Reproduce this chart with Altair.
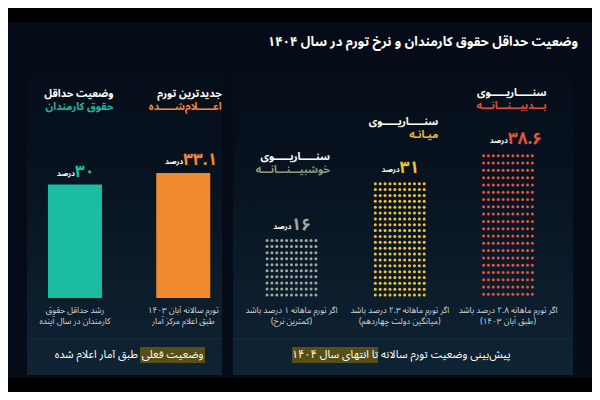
import altair as alt
import pandas as pd

# ---------------- data ----------------
categories = ["حداقل حقوق", "تورم اعلام‌شده", "خوشبینانه", "میانه", "بدبینانه"]
values = [30, 33.1, 16, 31, 38.6]
kinds = ["bar", "bar", "dots", "dots", "dots"]
dot_rows = [0, 0, 10, 20, 20]
dot_cols = 11
header_top = ["وضعیت حداقل", "جدیدترین تورم", "سنـــــاریـــــوی", "سنـــــاریـــــوی", "سنـــــاریـــــوی"]
header_bottom = ["حقوق کارمندان", "اعـــــلام‌شـــــده", "خوشبیـــنـــانـــه", "میـانـه", "بـــدبیـــنـــانـــه"]
label_line1 = ["رشد حداقل حقوق", "تورم سالانه آبان ۱۴۰۳", "اگر تورم ماهانه ۱ درصد باشد",
               "اگر تورم ماهانه ۲.۳ درصد باشد", "اگر تورم ماهانه ۲.۸ درصد باشد"]
label_line2 = ["کارمندان در سال آینده", "طبق اعلام مرکز آمار", "(کمترین نرخ)",
               "(میانگین دولت چهاردهم)", "(طبق آبان ۱۴۰۳)"]
unit = "درصد"
title = "وضعیت حداقل حقوق کارمندان و نرخ تورم در سال ۱۴۰۴"
footer_left_plain = "طبق آمار اعلام شده"
footer_left_mark = "وضعیت فعلی"
footer_right_plain = "پیش‌بینی وضعیت تورم سالانه"
footer_right_mark = "تا انتهای سال ۱۴۰۴"

# ---------------- styles / layout ----------------
FONT = "'Noto Sans Arabic', 'Noto Naskh Arabic', 'DejaVu Sans'"
main_colors = ["#1bbc9f", "#f18a2f", "#a3a89e", "#f4c22e", "#e2543b"]
head_colors = ["#1bb89c", "#f08a2e", "#8e9b82", "#f4b62c", "#e64d2e"]
head_y = [(86, 99), (86, 99), (149, 162), (114, 127), (85, 98)]
num_dx = [-6, -15, 4, 8, -5]          # left edge of number relative to column centre
BG = "#050c17"
PANEL_BOTTOM = "#0f2434"
HILITE = "#574f16"

xs = alt.Scale(domain=[0, 4], range=[62, 505])
ys = alt.Scale(domain=[0, 40], range=[290, 138.8], nice=False, zero=False)

one = alt.Data(values=[{"a": 1}])


def persian(v):
    s = ("%g" % v)
    return s.translate(str.maketrans("0123456789", "۰۱۲۳۴۵۶۷۸۹"))


def rect(x, x2, y, y2, color, **kw):
    return alt.Chart(one).mark_rect(color=color, **kw).encode(
        x=alt.value(x), x2=alt.value(x2), y=alt.value(y), y2=alt.value(y2))


def txt(s, x, y, size, color, weight="bold", align="center"):
    return alt.Chart(one).mark_text(text=s, fontSize=size, color=color, fontWeight=weight,
                                    align=align, baseline="middle", font=FONT).encode(
        x=alt.value(x), y=alt.value(y))


# frames
base = pd.DataFrame({
    "pos": list(range(len(categories))),
    "cat": categories,
    "value": values,
    "kind": kinds,
    "color": main_colors,
    "hcolor": head_colors,
    "h1": header_top,
    "h2": header_bottom,
    "hy1": [h[0] for h in head_y],
    "hy2": [h[1] for h in head_y],
    "l1": label_line1,
    "l2": label_line2,
    "num": [persian(v) for v in values],
    "ndx": num_dx,
    "udx": [d - 2 for d in num_dx],
})

bars_df = base[base["kind"] == "bar"]

dots = []
for idx in range(len(categories)):
    if kinds[idx] != "dots":
        continue
    n = dot_rows[idx]
    for i in range(n):
        for c in range(dot_cols):
            dots.append({"name": categories[idx], "color": main_colors[idx],
                         "px": idx + (c - (dot_cols - 1) / 2) * 5 / 110.75,
                         "py": values[idx] * (i + 0.5) / n})
dots_df = pd.DataFrame(dots)

# background / panels
grad = alt.LinearGradient(gradient="linear", x1=0, x2=0, y1=0, y2=1,
                          stops=[alt.GradientStop(color=BG, offset=0),
                                 alt.GradientStop(color="#081422", offset=0.45),
                                 alt.GradientStop(color=PANEL_BOTTOM, offset=1)])
layers = [
    rect(0, 584, 14, 370, BG),
    rect(19, 214, 40, 367, grad),
    rect(225, 565, 40, 367, grad),
    alt.Chart(one).mark_rule(color="#1d3647", strokeDash=[2, 2], strokeWidth=1).encode(
        x=alt.value(19), x2=alt.value(214), y=alt.value(331)),
    alt.Chart(one).mark_rule(color="#1d3647", strokeDash=[2, 2], strokeWidth=1).encode(
        x=alt.value(225), x2=alt.value(565), y=alt.value(331)),
    rect(132, 197, 339, 355, HILITE),
    rect(284, 370, 339, 355, HILITE),
]

# bars
layers.append(alt.Chart(bars_df).mark_bar(size=54).encode(
    x=alt.X("pos:Q", scale=xs, axis=None),
    y=alt.Y("value:Q", scale=ys, axis=None),
    y2=alt.datum(0),
    color=alt.Color("color:N", scale=None)))

# dot grids
layers.append(alt.Chart(dots_df).mark_circle(size=9, opacity=1).encode(
    x=alt.X("px:Q", scale=xs, axis=None),
    y=alt.Y("py:Q", scale=ys, axis=None),
    color=alt.Color("color:N", scale=None)))

# value labels
layers.append(alt.Chart(base).mark_text(font=FONT, fontSize=17, fontWeight="bold",
                                         align="left", baseline="middle", dy=-13).encode(
    x=alt.X("pos:Q", scale=xs, axis=None),
    xOffset=alt.XOffset("ndx:Q", scale=None),
    y=alt.Y("value:Q", scale=ys, axis=None),
    text="num:N",
    color=alt.Color("color:N", scale=None)))
layers.append(alt.Chart(base).mark_text(font=FONT, fontSize=7.5, fontWeight="bold",
                                         align="right", baseline="middle", dy=-11,
                                         color="#ffffff").encode(
    x=alt.X("pos:Q", scale=xs, axis=None),
    xOffset=alt.XOffset("udx:Q", scale=None),
    y=alt.Y("value:Q", scale=ys, axis=None),
    text=alt.value(unit)))

# headers (right-aligned over each column)
layers.append(alt.Chart(base).mark_text(font=FONT, fontSize=10.5, fontWeight="bold",
                                         align="right", baseline="middle", dx=38.5,
                                         color="#ffffff").encode(
    x=alt.X("pos:Q", scale=xs, axis=None),
    y=alt.Y("hy1:Q", scale=None),
    text="h1:N"))
layers.append(alt.Chart(base).mark_text(font=FONT, fontSize=10.5, fontWeight="bold",
                                         align="right", baseline="middle", dx=38.5).encode(
    x=alt.X("pos:Q", scale=xs, axis=None),
    y=alt.Y("hy2:Q", scale=None),
    text="h2:N",
    color=alt.Color("hcolor:N", scale=None)))

# bottom labels
for fld, yy in (("l1", 303), ("l2", 313.5)):
    layers.append(alt.Chart(base).mark_text(font=FONT, fontSize=8.3, align="center",
                                             baseline="middle", color="#d3d9de").encode(
        x=alt.X("pos:Q", scale=xs, axis=None),
        y=alt.value(yy),
        text=f"{fld}:N"))

# title and footers
layers += [
    alt.Chart(one).mark_text(text=title, fontSize=13, color="#ffffff", fontWeight="bold",
                             align="right", baseline="middle", font=FONT).encode(
        x=alt.value(570), y=alt.value(34)),
    txt(footer_left_mark, 164.5, 347, 11, "#ffffff", weight="normal"),
    txt(footer_left_plain, 130, 347, 11, "#ffffff", weight="normal", align="right"),
    txt(footer_right_mark, 327, 347, 11, "#ffffff", weight="normal"),
    txt(footer_right_plain, 373, 347, 11, "#ffffff", weight="normal", align="left"),
]

chart = alt.layer(*layers).properties(
    width=584, height=384, autosize="none", padding=0, background="#000000"
).configure_view(strokeWidth=0)

chart.save("out.html", embed_options={"renderer": "svg", "actions": False})
